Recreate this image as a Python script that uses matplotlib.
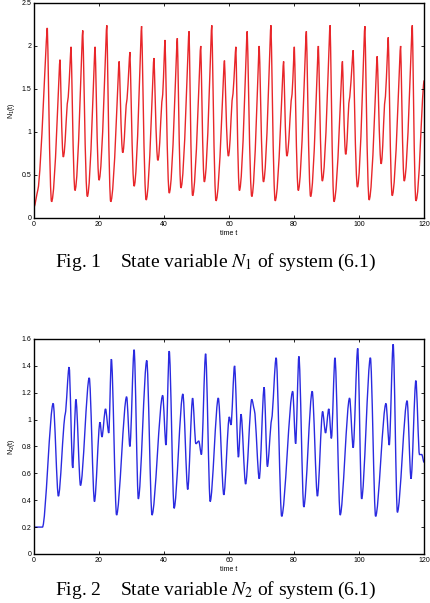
import matplotlib
matplotlib.use("Agg")
import matplotlib.pyplot as plt
from matplotlib.path import Path
from matplotlib.patches import PathPatch

# values: turning points (and shoulders) of each curve
t_n1 = [0, 1.2, 4.1, 5.4, 8.0, 9.0, 10.4, 11.4, 12.6, 15.0, 16.4, 18.8, 20.0,
        22.4, 23.6, 26.2, 27.3, 28.5, 29.5, 30.8, 33.1, 34.5, 36.9, 38.1, 39.5,
        40.3, 41.6, 44.1, 45.2, 47.7, 48.8, 51.3, 52.4, 54.7, 56.0, 58.6, 59.8,
        61.1, 62.1, 63.2, 65.6, 67.0, 69.3, 70.6, 72.9, 74.2, 76.8, 77.8, 79.3,
        80.1, 81.3, 83.8, 85.1, 87.5, 88.7, 91.1, 92.3, 94.9, 95.9, 97.0, 98.2,
        99.5, 101.8, 103.1, 105.6, 106.8, 108.0, 109.0, 110.2, 112.8, 113.9,
        116.4, 117.5, 120.0]
v_n1 = [0.12, 0.33, 2.21, 0.19, 1.84, 0.71, 1.37, 1.99, 0.32, 2.18, 0.25, 1.99,
        0.44, 2.24, 0.19, 1.82, 0.76, 1.35, 1.93, 0.37, 2.23, 0.21, 1.86, 0.67,
        1.40, 2.07, 0.29, 2.09, 0.35, 2.17, 0.26, 2.00, 0.42, 2.24, 0.20, 1.83,
        0.72, 1.41, 1.99, 0.32, 2.17, 0.25, 2.00, 0.42, 2.24, 0.20, 1.82, 0.72,
        1.41, 1.99, 0.32, 2.17, 0.25, 2.00, 0.43, 2.24, 0.19, 1.82, 0.74, 1.37,
        1.95, 0.36, 2.23, 0.21, 1.88, 0.63, 1.37, 2.10, 0.26, 2.00, 0.43, 2.24,
        0.20, 1.60]

t_n2 = [0, 2.6, 5.9, 7.5, 9.6, 10.8, 11.9, 12.9, 14.3, 17.0, 18.6, 20.3, 20.9,
        22.0, 23.0, 23.8, 25.4, 28.5, 29.5, 30.8, 32.1, 34.7, 36.3, 39.6, 40.6,
        41.6, 43.1, 45.8, 47.3, 48.8, 49.8, 50.7, 51.5, 52.8, 54.2, 56.7, 58.4,
        60.1, 60.6, 61.7, 62.9, 63.7, 65.1, 67.0, 67.8, 69.3, 70.8, 71.8, 73.1,
        74.5, 76.2, 79.6, 80.5, 81.5, 83.0, 85.6, 87.2, 88.8, 89.7, 90.7, 91.5,
        92.6, 94.2, 97.1, 98.2, 99.6, 100.8, 103.5, 105.1, 108.3, 109.3, 110.5,
        111.8, 114.8, 116.0, 117.5, 118.6, 119.3, 120.0]
v_n2 = [0.20, 0.20, 1.12, 0.43, 1.04, 1.39, 0.64, 1.15, 0.51, 1.31, 0.39, 0.98,
        0.87, 1.08, 0.90, 1.45, 0.29, 1.17, 0.80, 1.52, 0.41, 1.44, 0.29, 1.18,
        0.81, 1.51, 0.34, 1.19, 0.48, 1.16, 0.82, 0.84, 0.74, 1.49, 0.39, 1.16,
        0.44, 1.02, 0.96, 1.40, 0.72, 1.04, 0.52, 1.15, 1.07, 0.56, 1.24, 0.65,
        1.00, 1.46, 0.28, 1.21, 0.82, 1.47, 0.35, 1.21, 0.43, 1.06, 0.90, 1.08,
        0.86, 1.46, 0.29, 1.16, 0.79, 1.53, 0.41, 1.46, 0.28, 1.12, 0.81, 1.56,
        0.31, 1.14, 0.56, 1.29, 0.74, 0.74, 0.68]

x_ticks = [0, 20, 40, 60, 80, 100, 120]
y_ticks_n1 = [0, 0.5, 1, 1.5, 2, 2.5]
y_labels_n1 = ["0", "0.5", "1", "1.5", "2", "2.5"]
y_ticks_n2 = [0, 0.2, 0.4, 0.6, 0.8, 1, 1.2, 1.4, 1.6]
y_labels_n2 = ["0", "0.2", "0.4", "0.6", "0.8", "1", "1.2", "1.4", "1.6"]


def curve(t, v, k_peak, k_trough, k_mid=0.33):
    """Bezier path through the read points, flat at the turning points."""
    n = len(t)
    slope, hand = [], []
    for i in range(n):
        if i in (0, n - 1):
            j = 1 if i == 0 else n - 2
            slope.append(0.5 * (v[j] - v[i]) / (t[j] - t[i]))
            hand.append(k_mid)
            continue
        d0, d1 = v[i] - v[i - 1], v[i + 1] - v[i]
        if d0 * d1 <= 0:
            slope.append(0.0)
            hand.append(k_peak if d0 > 0 or d1 < 0 else k_trough)
        else:
            slope.append(0.3 * (v[i + 1] - v[i - 1]) / (t[i + 1] - t[i - 1]))
            hand.append(k_mid)
    verts, codes = [(t[0], v[0])], [Path.MOVETO]
    for i in range(n - 1):
        dt = t[i + 1] - t[i]
        a, b = hand[i] * dt, hand[i + 1] * dt
        verts += [(t[i] + a, v[i] + slope[i] * a),
                  (t[i + 1] - b, v[i + 1] - slope[i + 1] * b),
                  (t[i + 1], v[i + 1])]
        codes += [Path.CURVE4] * 3
    return Path(verts, codes)


plt.rcParams["font.family"] = ["Liberation Sans", "DejaVu Sans"]
fig = plt.figure(figsize=(4.31, 6.03), dpi=100)

panels = [
    (0.6385, t_n1, v_n1, "#e8262a", (0.12, 0.42), 2.5, y_ticks_n1, y_labels_n1, "1"),
    (0.0813, t_n2, v_n2, "#2a2ae0", (0.30, 0.30), 1.6, y_ticks_n2, y_labels_n2, "2"),
]
for bottom, t, v, color, ks, ymax, yt, yl, idx in panels:
    ax = fig.add_axes([0.0789, bottom, 0.9049, 0.3566])
    ax.add_patch(PathPatch(curve(t, v, *ks), facecolor="none", edgecolor=color,
                           lw=1.0, transform=ax.transData))
    ax.set_xlim(0, 120)
    ax.set_ylim(0, ymax)
    ax.set_xticks(x_ticks)
    ax.set_yticks(yt)
    ax.set_yticklabels(yl)
    ax.tick_params(direction="in", length=2.5, width=0.6, labelsize=5,
                   top=True, right=True, pad=2)
    for s in ax.spines.values():
        s.set_linewidth(1.0)
    ax.set_xlabel("time t", fontsize=5, labelpad=1.5)
    ax.set_ylabel("N$_%s$(t)" % idx, fontsize=5, labelpad=3)

cap = dict(ha="center", fontsize=14, family="Liberation Serif",
           math_fontfamily="stix")
fig.text(0.5, 1 - 262 / 603, "Fig. 1    State variable $N_1$ of system (6.1)",
         va="center", **cap)
fig.text(0.5, 0.003, "Fig. 2    State variable $N_2$ of system (6.1)",
         va="bottom", **cap)

fig.savefig("out.png", dpi=100)
